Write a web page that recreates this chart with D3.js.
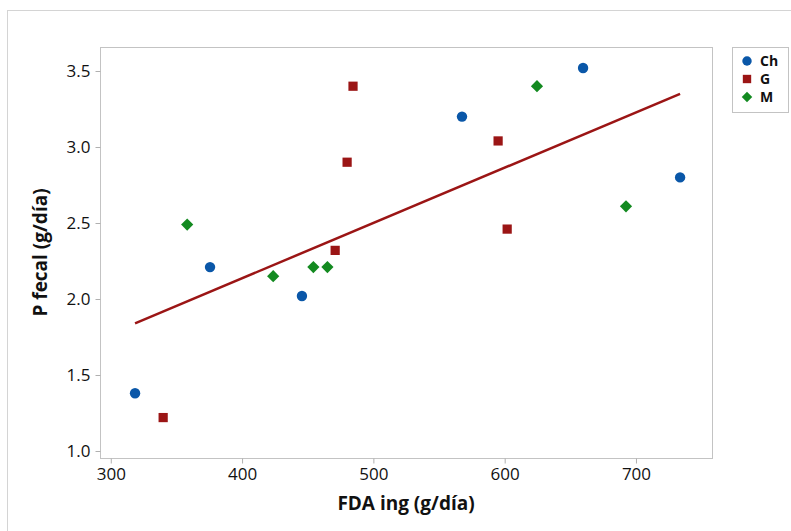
<!doctype html>
<html>
<head>
    <meta charset="utf-8">
    <script src="https://d3js.org/d3.v7.min.js"></script>
    <style>
        body { margin: 0; background: #fff; }
        text { font-family: "Open Sans", "Noto Sans", sans-serif; fill: #111; }
    </style>
</head>
<body>
<svg id="chart" width="791" height="531"></svg>
<script>
    // values
    var chX = [318.5, 375.6, 445.6, 567.5, 659.7, 733.6];
    var chY = [1.38, 2.21, 2.02, 3.20, 3.52, 2.80];
    var gX = [339.9, 484.5, 480.0, 470.9, 595.0, 601.9];
    var gY = [1.22, 3.40, 2.90, 2.32, 3.04, 2.46];
    var mX = [358.2, 423.7, 454.3, 465.0, 624.6, 692.4];
    var mY = [2.49, 2.15, 2.21, 2.21, 3.40, 2.61];
    // fitted line end points
    var fitX = [318.5, 733.6];
    var fitY = [1.84, 3.35];
    var xTicks = [300, 400, 500, 600, 700];
    var yTicks = [1.0, 1.5, 2.0, 2.5, 3.0, 3.5];
    var groups = ["Ch", "G", "M"];

    var colors = { Ch: "#0a57a8", G: "#9b1515", M: "#138a20" };

    var svg = d3.select("#chart");

    // outer frame
    svg.append("rect")
        .attr("x", 7.5).attr("y", 10.5)
        .attr("width", 800).attr("height", 540)
        .attr("fill", "none").attr("stroke", "#d4d4d4");

    var pLeft = 100, pRight = 712, pTop = 47, pBottom = 458;

    var x = d3.scaleLinear().domain([291.8, 757.9]).range([pLeft, pRight]);
    var y = d3.scaleLinear().domain([0.954, 3.658]).range([pBottom, pTop]);

    // plot frame
    svg.append("rect")
        .attr("x", pLeft + 0.5).attr("y", pTop + 0.5)
        .attr("width", pRight - pLeft).attr("height", pBottom - pTop)
        .attr("fill", "none").attr("stroke", "#c3c3c3");

    // x axis
    var gx = svg.append("g")
        .attr("transform", "translate(0," + (pBottom + 0.5) + ")")
        .call(d3.axisBottom(x).tickValues(xTicks).tickSize(5).tickPadding(4)
            .tickFormat(d3.format("d")));
    gx.select(".domain").remove();
    gx.selectAll(".tick line").attr("stroke", "#b0b0b0");
    gx.selectAll(".tick text").style("font-size", "17px").attr("fill", "#111");

    // y axis
    var gy = svg.append("g")
        .attr("transform", "translate(" + (pLeft + 0.5) + ",0)")
        .call(d3.axisLeft(y).tickValues(yTicks).tickSize(5).tickPadding(5)
            .tickFormat(d3.format(".1f")));
    gy.select(".domain").remove();
    gy.selectAll(".tick line").attr("stroke", "#b0b0b0");
    gy.selectAll(".tick text").style("font-size", "17px").attr("fill", "#111");

    // axis titles
    svg.append("text")
        .attr("x", (pLeft + pRight) / 2).attr("y", 510)
        .attr("text-anchor", "middle")
        .style("font-size", "19px").style("font-weight", "bold")
        .text("FDA ing (g/día)");
    svg.append("text")
        .attr("transform", "translate(47," + ((pTop + pBottom) / 2) + ") rotate(-90)")
        .attr("text-anchor", "middle")
        .style("font-size", "19px").style("font-weight", "bold")
        .text("P fecal (g/día)");

    // fitted line
    var fit = fitX.map(function (d, i) { return [d, fitY[i]]; });
    svg.append("path")
        .datum(fit)
        .attr("d", d3.line().x(d => x(d[0])).y(d => y(d[1])))
        .attr("stroke", "#9b1515")
        .attr("stroke-width", 2.5)
        .attr("fill", "none");

    var symbols = {
        Ch: d3.symbol().type(d3.symbolCircle).size(85),
        G: d3.symbol().type(d3.symbolSquare).size(85),
        M: d3.symbol().type(d3.symbolDiamond2).size(95)
    };

    function addPoints(name, xs, ys) {
        var pts = xs.map(function (d, i) { return [d, ys[i]]; });
        svg.append("g").selectAll("path")
            .data(pts)
            .enter()
            .append("path")
            .attr("transform", d => "translate(" + x(d[0]) + "," + y(d[1]) + ")")
            .attr("d", symbols[name])
            .attr("fill", colors[name]);
    }
    addPoints("Ch", chX, chY);
    addPoints("G", gX, gY);
    addPoints("M", mX, mY);

    // legend
    var lg = svg.append("g").attr("transform", "translate(732,47)");
    lg.append("rect")
        .attr("x", 0.5).attr("y", 0.5).attr("width", 56).attr("height", 65)
        .attr("fill", "#fff").attr("stroke", "#c3c3c3");
    groups.forEach(function (g, i) {
        lg.append("path")
            .attr("transform", "translate(15," + (14 + i * 18) + ")")
            .attr("d", d3.symbol().type(g == "Ch" ? d3.symbolCircle : g == "G" ? d3.symbolSquare : d3.symbolDiamond2).size(g == "M" ? 70 : 70))
            .attr("fill", colors[g]);
        lg.append("text")
            .attr("x", 28).attr("y", 19 + i * 18)
            .style("font-size", "14px").style("font-weight", "bold")
            .text(g);
    });
</script>
</body>
</html>
